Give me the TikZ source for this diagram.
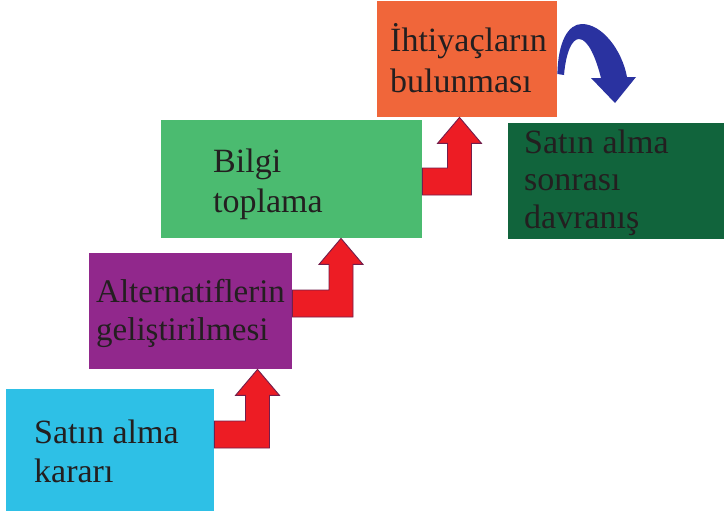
\documentclass[tikz,border=0pt]{standalone}
\usepackage{fontspec}
\setmainfont{Liberation Serif}
\usetikzlibrary{calc}

\definecolor{cyanbox}{RGB}{46,192,230}
\definecolor{purplebox}{RGB}{145,40,140}
\definecolor{greenbox}{RGB}{75,187,112}
\definecolor{orangebox}{RGB}{240,102,58}
\definecolor{darkgreenbox}{RGB}{17,100,60}
\definecolor{stairred}{RGB}{237,28,36}
\definecolor{stairedge}{RGB}{115,30,75}
\definecolor{turnblue}{RGB}{42,50,160}
\definecolor{ink}{RGB}{35,31,32}

\tikzset{
  stage/.style={rectangle, draw=none, inner sep=0pt, anchor=north west},
  % the base anchor of a multi-line node sits on its last line
  label text/.style={inner sep=0pt, anchor=base west, align=left, text=ink,
    font=\fontsize{34}{39}\selectfont},
  stairarrow/.style={fill=stairred, draw=stairedge, line width=0.9pt, line join=miter},
}

% L-shaped step arrow: #1 lower box, #2 upper box, #3 shaft centre x, #4 bar centre y
\newcommand\stairstep[4]{%
  \draw[stairarrow]
    (#1.east |- 0,{#4-13.5})
    -- ({#3-12},{#4-13.5})
    -- ($(#3-12,0 |- #2.south)+(0,26)$)
    -- ($(#3-22,0 |- #2.south)+(0,26)$)
    -- (#3,0 |- #2.south)
    -- ($(#3+22,0 |- #2.south)+(0,26)$)
    -- ($(#3+12,0 |- #2.south)+(0,26)$)
    -- ({#3+12},{#4+13.5})
    -- (#1.east |- 0,{#4+13.5})
    -- cycle;}

\begin{document}
\begin{tikzpicture}[x=1pt, y=-1pt]
  \useasboundingbox[fill=white] (0,0) rectangle (724,514);

  % stage boxes
  \node[stage, fill=cyanbox, minimum width=208pt, minimum height=122pt] (decision) at (6,389) {};
  \node[stage, fill=purplebox, minimum width=203pt, minimum height=116pt] (alternatives) at (89,253) {};
  \node[stage, fill=greenbox, minimum width=261pt, minimum height=118pt] (information) at (161,120) {};
  \node[stage, fill=orangebox, minimum width=180pt, minimum height=116pt] (needs) at (377,1) {};
  \node[stage, fill=darkgreenbox, minimum width=216pt, minimum height=116pt] (after) at (508,123) {};

  % stage texts
  \node[label text] (tdecision) at (34,482) {Satın alma\\kararı};
  \node[label text, font=\fontsize{33}{38}\selectfont] (talternatives) at (96,340) {Alternatiflerin\\geliştirilmesi};
  \node[label text, font=\fontsize{34}{40}\selectfont] (tinformation) at (213,212) {Bilgi\\toplama};
  \node[label text, font=\fontsize{34}{40}\selectfont] (tneeds) at (390,92) {İhtiyaçların\\bulunması};
  \node[label text, font=\fontsize{34}{37.5}\selectfont] (tafter) at (524,228) {Satın alma\\sonrası\\davranış};

  % red step arrows between the stages
  \stairstep{decision}{alternatives}{257.5}{434.5}
  \stairstep{alternatives}{information}{341}{303.5}
  \stairstep{information}{needs}{459.5}{181.5}

  % curved blue arrow from the needs stage towards the post-purchase stage
  \coordinate (turnstart) at (needs.east |- 0,74);
  \coordinate (turntip) at (615,103);
  \fill[turnblue]
    (turnstart)
    .. controls (558,42) and (568,24) .. (582,24)
    .. controls (602,24) and (622,50) .. (627,77)
    -- (636,77)
    -- (turntip)
    -- (591,78)
    -- (601,78)
    .. controls (596,58) and (588,39) .. (579,39)
    .. controls (572,39) and (566,52) .. (564,75)
    -- cycle;
\end{tikzpicture}
\end{document}
